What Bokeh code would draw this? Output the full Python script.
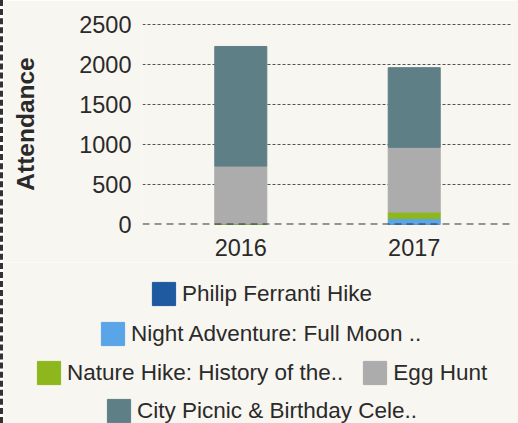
from bokeh.plotting import figure
from bokeh.models import (FactorRange, Range1d, FixedTicker, Legend, LegendItem, Span, Column)
from bokeh.embed import file_html
from bokeh.resources import INLINE

years = ["2016", "2017"]
series = ["Philip Ferranti Hike", "Night Adventure: Full Moon ..",
          "Nature Hike: History of the..", "Egg Hunt", "City Picnic & Birthday Cele.."]
philip = [0, 0]
night = [0, 75]
nature = [10, 80]
egg = [720, 810]
city = [1495, 995]
colors = ["#1f5aa0", "#5aa5e8", "#8db71c", "#acacac", "#5f7f86"]
y_ticks = [0, 500, 1000, 1500, 2000, 2500]

BG = "#f8f6f0"
FONT = "Liberation Sans"
TXT = "#2a2a2a"
NAN = float("nan")

data = {"year": years, "p": philip, "n": night, "h": nature, "e": egg, "c": city}
keys = ["p", "n", "h", "e", "c"]

W = 515
p = figure(width=W, height=262, output_backend="svg", toolbar_location=None,
           x_range=FactorRange(factors=years, range_padding=0.0667),
           y_range=Range1d(0, 2512),
           background_fill_color=BG, border_fill_color=BG,
           min_border_top=23, min_border_right=6, min_border_left=139, min_border_bottom=38)
p.outline_line_color = None

rs = p.vbar_stack(keys, x="year", width=0.3, color=colors, source=data)

# grid
p.xgrid.grid_line_color = None
p.ygrid.ticker = FixedTicker(ticks=y_ticks[1:])
p.ygrid.grid_line_color = "#555555"
p.ygrid.grid_line_dash = "3 2"
p.ygrid.grid_line_width = 1
zero = Span(location=y_ticks[0], dimension="width", line_color="#333333",
            line_dash="7 5", line_width=2)
p.add_layout(zero)

# axes
p.yaxis.ticker = FixedTicker(ticks=y_ticks)
for ax in (p.xaxis[0], p.yaxis[0]):
    ax.axis_line_color = None
    ax.major_tick_line_color = None
    ax.minor_tick_line_color = None
    ax.major_tick_out = 0
    ax.major_tick_in = 0
    ax.major_label_text_font = FONT
    ax.major_label_text_font_size = "23.5px"
    ax.major_label_text_color = TXT
p.yaxis.major_label_standoff = 11
p.xaxis.major_label_standoff = 14
p.yaxis.axis_label = "Attendance"
p.yaxis.axis_label_text_font = FONT
p.yaxis.axis_label_text_font_style = "bold"
p.yaxis.axis_label_text_font_size = "24.5px"
p.yaxis.axis_label_text_color = TXT
p.yaxis.axis_label_standoff = 37

# legend panel
p2 = figure(width=W, height=161, output_backend="svg", toolbar_location=None,
            x_range=Range1d(0, 1), y_range=Range1d(0, 1),
            x_axis_location=None, y_axis_location=None,
            background_fill_color=BG, border_fill_color=BG,
            min_border_left=0, min_border_right=0, min_border_top=0, min_border_bottom=0)
p2.outline_line_color = None
p2.grid.grid_line_color = None
swatches = [p2.vbar(x=[NAN], top=[NAN], width=0.3, color=c) for c in colors]

rows = [[0], [1], [2, 3], [4]]
row_pos = [(146, 115), (95, 75), (31, 36), (101, -2)]
for row, loc in zip(rows, row_pos):
    items = [LegendItem(label=series[i], renderers=[swatches[i]]) for i in row]
    lg = Legend(items=items, orientation="horizontal", location=loc,
                glyph_width=29, glyph_height=29, label_standoff=4, spacing=17,
                padding=0, margin=0, label_text_font=FONT,
                label_text_font_size="22.5px", label_text_color=TXT,
                background_fill_alpha=0, border_line_alpha=0)
    p2.add_layout(lg, "center")

layout = Column(children=[p, Column(children=[p2])], spacing=0,
                styles={"border-left": "3px dashed #333333"})

open("out.html", "w").write(file_html(layout, INLINE))
